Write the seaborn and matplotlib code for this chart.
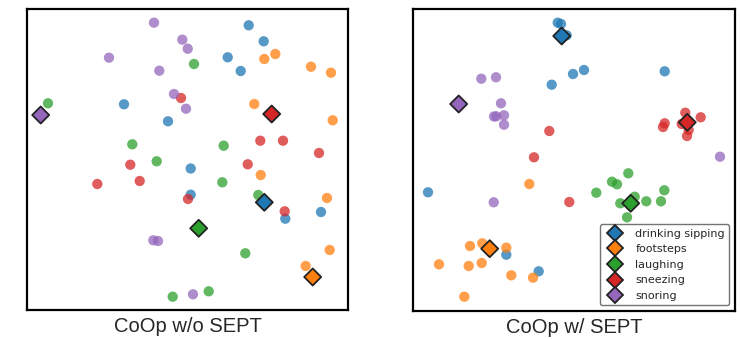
import pandas as pd
import matplotlib
matplotlib.use("Agg")
import matplotlib.pyplot as plt
import seaborn as sns

# classes and colours (tab10)
classes = ["drinking sipping", "footsteps", "laughing", "sneezing", "snoring"]
palette = dict(zip(classes, sns.color_palette("tab10", 5)))

# ---- CoOp w/o SEPT : embedded samples ----
wo_x = [248.7, 263.7, 227.7, 240.7, 124.0, 168.0, 190.7, 190.7, 285.3, 321.0,
        275.3, 264.3, 311.0, 331.0, 254.3, 332.7, 260.7, 327.0, 329.7, 305.7,
        194.0, 48.0, 132.3, 223.7, 156.7, 222.3, 258.3, 245.3, 172.7, 208.7,
        181.0, 260.3, 283.0, 319.0, 130.3, 247.7, 97.3, 139.7, 188.0, 284.7,
        154.0, 182.3, 187.7, 109.0, 159.3, 174.0, 186.0, 153.3, 158.0, 193.0]
wo_y = [25.3, 41.3, 57.3, 71.0, 104.3, 121.3, 168.5, 194.7, 218.7, 212.0,
        54.0, 59.0, 66.7, 72.7, 104.0, 120.3, 175.0, 198.0, 250.0, 266.0,
        64.0, 103.3, 144.3, 145.7, 161.3, 182.3, 195.0, 253.3, 296.7, 291.3,
        98.0, 140.7, 140.7, 153.0, 164.7, 164.3, 184.0, 181.0, 199.0, 211.3,
        22.7, 39.7, 48.7, 57.7, 70.7, 94.0, 108.7, 240.3, 241.0, 294.3]
wo_label = [c for c in classes for _ in range(10)]

# class centres
wo_cx = [264.3, 312.7, 198.7, 271.7, 40.7]
wo_cy = [202.3, 277.0, 228.3, 114.0, 115.0]

# ---- CoOp w/ SEPT ----
w_x = [557.7, 561.0, 566.7, 584.0, 573.0, 551.7, 664.7, 428.0, 506.3, 538.7,
       529.3, 470.0, 482.3, 506.3, 439.0, 468.7, 481.7, 511.3, 533.0, 464.3,
       628.3, 612.0, 617.0, 596.3, 634.7, 664.3, 620.3, 646.3, 661.0, 627.0,
       685.3, 700.7, 664.7, 663.0, 681.7, 688.7, 687.0, 549.3, 534.0, 569.3,
       481.3, 496.0, 501.0, 504.0, 496.3, 494.0, 504.0, 720.0, 493.7]
w_y = [22.7, 24.0, 35.3, 70.0, 74.0, 84.7, 71.3, 192.3, 254.7, 271.3,
       184.0, 246.0, 243.3, 247.7, 264.3, 266.0, 263.0, 275.3, 277.7, 296.7,
       173.3, 181.7, 184.3, 192.7, 196.7, 190.3, 203.3, 201.3, 201.3, 217.3,
       112.7, 117.3, 123.3, 127.0, 124.0, 130.0, 136.0, 131.0, 157.3, 202.0,
       78.7, 77.3, 103.3, 115.3, 116.3, 116.5, 124.7, 156.7, 202.3]
w_label = [c for c in classes for _ in range(10)][:-1]

w_cx = [561.7, 489.7, 630.7, 687.3, 458.7]
w_cy = [36.0, 248.7, 203.3, 122.3, 104.0]

panels = [
    ("CoOp w/o SEPT", wo_x, wo_y, wo_label, wo_cx, wo_cy,
     [27 / 741, 1 - 310 / 339, 321 / 741, 301 / 339], (27, 348), (310, 9)),
    ("CoOp w/ SEPT", w_x, w_y, w_label, w_cx, w_cy,
     [413 / 741, 1 - 311 / 339, 322 / 741, 302 / 339], (413, 735), (311, 9)),
]

sns.set_theme(style="white")
plt.rcParams["font.family"] = ["DejaVu Sans"]

fig = plt.figure(figsize=(7.41, 3.39), dpi=100)

for i, (title, xs, ys, labs, cx, cy, rect, xlim, ylim) in enumerate(panels):
    ax = fig.add_axes(rect)
    pts = pd.DataFrame({"x": xs, "y": ys, "cls": labs})
    sns.scatterplot(data=pts, x="x", y="y", hue="cls", palette=palette,
                    hue_order=classes, s=55, alpha=0.75, linewidth=0,
                    legend=False, ax=ax)
    ctr = pd.DataFrame({"x": cx, "y": cy, "cls": classes})
    sns.scatterplot(data=ctr, x="x", y="y", hue="cls", palette=palette,
                    hue_order=classes, marker="D", s=75, edgecolor="#222222",
                    linewidth=1.3, legend=(i == 1), ax=ax, zorder=5)
    ax.set_xlim(*xlim)
    ax.set_ylim(*ylim)
    ax.set_xticks([])
    ax.set_yticks([])
    ax.set_ylabel("")
    ax.set_xlabel(title, fontsize=14.5, family="Liberation Sans", labelpad=5)
    for sp in ax.spines.values():
        sp.set_color("black")
        sp.set_linewidth(1.6)
    if i == 1:
        leg = ax.legend(loc="lower right", fontsize=8, title=None,
                        frameon=True, edgecolor="0.45", framealpha=1)
        for h in leg.legend_handles:
            h.set_marker("D")
            h.set_markersize(8)
            h.set_markeredgecolor("#222222")
            h.set_markeredgewidth(1.3)

fig.savefig("out.png", dpi=100)
